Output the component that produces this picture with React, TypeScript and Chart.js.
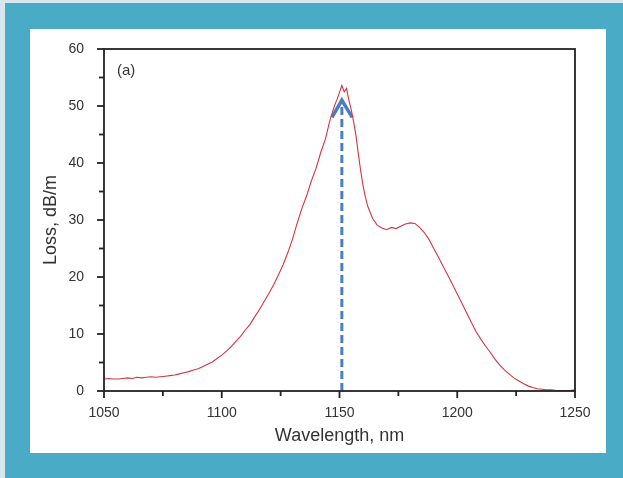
import React, { useEffect, useRef } from "react";
import { Chart, registerables } from "chart.js";

Chart.register(...registerables);

const wavelengths = [
  1050, 1052, 1054, 1056, 1058, 1060, 1062, 1064, 1066, 1068, 1070, 1072, 1074, 1076, 1078,
  1080, 1082, 1084, 1086, 1088, 1090, 1092, 1094, 1096, 1098, 1100, 1102, 1104, 1106, 1108,
  1110, 1112, 1114, 1116, 1118, 1120, 1122, 1124, 1126, 1128, 1130, 1132, 1134, 1136, 1138,
  1140, 1142, 1144, 1146, 1148, 1149, 1150, 1151, 1152, 1153, 1154, 1155, 1156, 1157, 1158,
  1159, 1160, 1161, 1162, 1164, 1166, 1168, 1170, 1172, 1174, 1176, 1178, 1180, 1182, 1184,
  1186, 1188, 1190, 1192, 1194, 1196, 1198, 1200, 1202, 1204, 1206, 1208, 1210, 1212, 1214,
  1216, 1218, 1220, 1222, 1224, 1226, 1228, 1230, 1232, 1234, 1236, 1238, 1240, 1242, 1244,
  1246, 1248, 1250,
];

const loss = [
  2.1, 2.2, 2.1, 2.1, 2.2, 2.3, 2.2, 2.4, 2.3, 2.4, 2.5, 2.4, 2.5, 2.6, 2.7,
  2.8, 3.0, 3.2, 3.4, 3.7, 3.9, 4.3, 4.7, 5.1, 5.7, 6.3, 7.0, 7.8, 8.7, 9.6,
  10.7, 11.7, 13.0, 14.3, 15.7, 17.1, 18.6, 20.3, 22.1, 24.2, 26.6, 29.4, 32.0, 34.2, 36.8,
  39.0, 41.8, 44.2, 47.6, 50.2, 51.2, 52.4, 53.6, 52.5, 53.1, 51.0, 49.3, 47.2, 44.8, 41.6,
  38.6, 36.0, 34.0, 32.4, 30.3, 29.1, 28.6, 28.3, 28.7, 28.5, 28.9, 29.3, 29.5, 29.4, 28.7,
  27.8, 26.6, 25.0, 23.5, 21.9, 20.3, 18.7, 17.0, 15.4, 13.7, 12.0, 10.4, 9.1, 7.9, 6.8,
  5.6, 4.6, 3.7, 3.0, 2.3, 1.8, 1.3, 0.9, 0.6, 0.4, 0.3, 0.2, 0.2, 0.1, 0.1,
  0.1, 0.1, 0.2,
];

const arrowShaftX = [1151, 1151];
const arrowShaftY = [0, 50.4];
const arrowHeadX = [1146.8, 1151, 1155.4];
const arrowHeadY = [48.0, 51.0, 48.0];

const xMin = 1050;
const xMax = 1250;
const xStep = 25;
const xLabelStep = 50;
const yMin = 0;
const yMax = 60;
const yStep = 5;
const yLabelStep = 10;

const panelLabel = "(a)";
const xTitle = "Wavelength, nm";
const yTitle = "Loss, dB/m";

const FONT = "'Liberation Sans', Arial, sans-serif";
const RED = "#d2373f";
const BLUE = "#4a7ec2";
const TEAL = "#4aabc6";

const framePlugin = {
  id: "framePlugin",
  afterDraw(chart: any) {
    const { ctx, chartArea, scales } = chart;
    const { left, right, top, bottom } = chartArea;
    ctx.save();
    ctx.strokeStyle = "#222";
    ctx.lineWidth = 1.8;
    ctx.strokeRect(left, top, right - left, bottom - top);
    for (let v = yMin; v <= yMax; v += yStep) {
      const py = scales.y.getPixelForValue(v);
      const len = v % yLabelStep === 0 ? 7 : 5;
      ctx.beginPath();
      ctx.moveTo(left - len, py);
      ctx.lineTo(left, py);
      ctx.stroke();
    }
    for (let v = xMin; v <= xMax; v += xStep) {
      const px = scales.x.getPixelForValue(v);
      const len = (v - xMin) % xLabelStep === 0 ? 7 : 5;
      ctx.beginPath();
      ctx.moveTo(px, bottom);
      ctx.lineTo(px, bottom + len);
      ctx.stroke();
    }
    ctx.fillStyle = "#333";
    ctx.font = `15px ${FONT}`;
    ctx.textBaseline = "middle";
    ctx.textAlign = "left";
    ctx.fillText(panelLabel, left + 13, top + 22);
    ctx.restore();
  },
};

export default function App() {
  const ref = useRef<HTMLCanvasElement | null>(null);

  useEffect(() => {
    if (!ref.current) return;
    const toPts = (xs: number[], ys: number[]) => xs.map((x, i) => ({ x, y: ys[i] }));
    const chart = new Chart(ref.current, {
      type: "scatter",
      data: {
        datasets: [
          {
            data: toPts(wavelengths, loss),
            showLine: true,
            borderColor: RED,
            borderWidth: 1.1,
            pointRadius: 0,
            tension: 0,
          },
          {
            data: toPts(arrowShaftX, arrowShaftY),
            showLine: true,
            borderColor: BLUE,
            borderWidth: 3,
            borderDash: [8, 4],
            pointRadius: 0,
          },
          {
            data: toPts(arrowHeadX, arrowHeadY),
            showLine: true,
            borderColor: BLUE,
            borderWidth: 3.5,
            borderJoinStyle: "miter",
            borderCapStyle: "butt",
            pointRadius: 0,
          },
        ],
      } as any,
      options: {
        responsive: false,
        animation: false,
        devicePixelRatio: 1,
        layout: { padding: { left: 30, top: 49, right: 48, bottom: 25 } },
        plugins: { legend: { display: false }, tooltip: { enabled: false } },
        scales: {
          x: {
            type: "linear",
            min: xMin,
            max: xMax,
            grid: { display: false },
            border: { display: false },
            ticks: {
              stepSize: xStep,
              autoSkip: false,
              maxRotation: 0,
              padding: 6,
              color: "#333",
              font: { family: FONT, size: 14 },
              callback: (v: any) => ((Number(v) - xMin) % xLabelStep === 0 ? String(v) : ""),
            },
            title: {
              display: true,
              text: xTitle,
              color: "#333",
              font: { family: FONT, size: 18 },
              padding: { top: 0, bottom: 6 },
            },
            afterFit: (s: any) => {
              s.height = 62;
            },
          },
          y: {
            type: "linear",
            min: yMin,
            max: yMax,
            grid: { display: false },
            border: { display: false },
            ticks: {
              stepSize: yStep,
              autoSkip: false,
              padding: 12,
              color: "#333",
              font: { family: FONT, size: 14 },
              callback: (v: any) => (Number(v) % yLabelStep === 0 ? String(v) : ""),
            },
            title: {
              display: true,
              text: yTitle,
              color: "#333",
              font: { family: FONT, size: 18 },
              padding: { top: 10, bottom: 0 },
            },
            afterFit: (s: any) => {
              s.width = 74;
            },
          },
        },
      } as any,
      plugins: [framePlugin],
    });
    return () => chart.destroy();
  }, []);

  return (
    <div style={{ position: "absolute", left: 0, top: 0, width: 623, height: 478, background: "#d6e7ed", overflow: "hidden" }}>
      <div style={{ position: "absolute", left: 5, top: 3, right: 0, bottom: 0, background: TEAL }} />
      <div style={{ position: "absolute", left: 30, top: 29, width: 576, height: 424, background: "#ffffff" }} />
      <canvas ref={ref} width={623} height={478} style={{ position: "absolute", left: 0, top: 0, width: 623, height: 478 }} />
    </div>
  );
}
